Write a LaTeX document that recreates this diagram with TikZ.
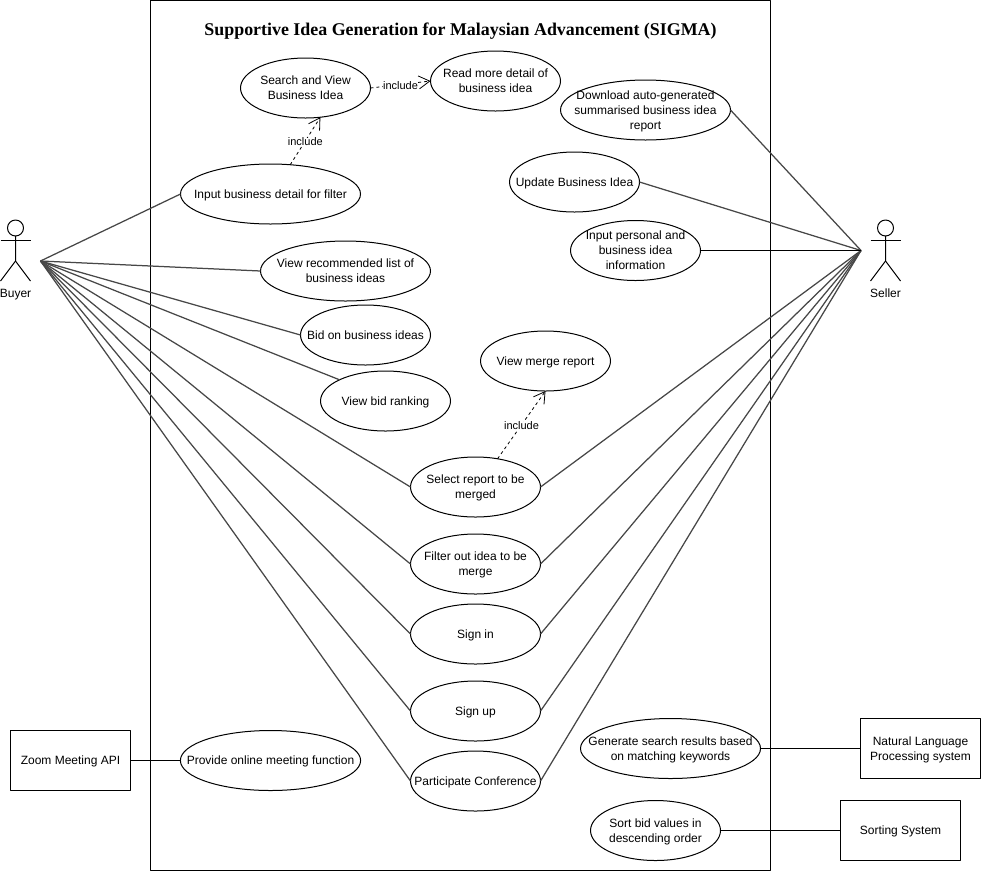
\documentclass[tikz,border=0pt]{standalone}
\usepackage{fontspec}
\setmainfont{Liberation Sans}
\newfontfamily\titlefont{Liberation Serif}
\usetikzlibrary{arrows.meta,shapes.geometric}

\begin{document}
\begin{tikzpicture}[
  x=1pt,
  y=-1pt,
  line join=round,
  font=\fontsize{12}{15}\selectfont,
  usecase/.style={draw=black,line width=1pt,ellipse,fill=white,align=center,inner sep=-20pt,outer sep=0pt,text depth=0pt,minimum width=130pt,minimum height=60pt},
  widecase/.style={usecase,minimum width=170pt},
  widercase/.style={usecase,minimum width=180pt},
  system/.style={draw=black,line width=1pt,align=center,inner sep=0pt,outer sep=0pt,text depth=0pt,minimum width=120pt,minimum height=60pt},
  assoc/.style={draw=black!72,line width=1.25pt},
  flat/.style={draw=black,line width=1pt},
  incl/.style={draw=black,line width=0.8pt,dash pattern=on 3pt off 3pt,-{Straight Barb[length=11pt,width=13pt,line width=0.8pt]}},
  incllabel/.style={fill=white,font=\fontsize{11}{13}\selectfont,inner sep=0pt,yshift=-1pt},
  actorline/.style={draw=black,line width=1pt},
  actorname/.style={inner sep=0pt,text depth=0pt}
]
  \useasboundingbox (0,0) rectangle (981,871);

  % System boundary and its title.
  \node[draw=black,line width=1pt,inner sep=0pt,outer sep=0pt,minimum width=620pt,minimum height=870pt] (frame) at (460.5,435.5) {};
  \node[font=\titlefont\bfseries\fontsize{17.9}{22}\selectfont,inner sep=0pt,text depth=0pt] (title) at (460.5,29.5) {Supportive Idea Generation for Malaysian Advancement (SIGMA)};

  % Actors, with the point where their connectors meet.
  \foreach \a/\x/\t in {buyer/15.5/Buyer,seller/885.5/Seller} {
    \node[draw=black,line width=1pt,circle,inner sep=0pt,outer sep=0pt,minimum size=16pt] (\a) at (\x,228) {};
    \draw[actorline] (\a.south) -- (\x,261) -- (\x-15,281);
    \draw[actorline] (\x,261) -- (\x+15,281);
    \draw[actorline] (\x-15,240.5) -- (\x+15,240.5);
    \node[actorname] (\a name) at (\x,293.5) {\t};
  }
  \coordinate (buyerport) at (40.5,261);
  \coordinate (sellerport) at (861,250.5);

  % Use cases.
  \node[usecase] (search) at (305.5,88) {Search and View\\Business Idea};
  \node[usecase] (readmore) at (495.5,81) {Read more detail of\\business idea};
  \node[widecase] (download) at (645.5,110) {Download auto-generated\\summarised business idea\\report};
  \node[widercase] (filterinput) at (270.5,194) {Input business detail for filter};
  \node[usecase] (update) at (574.5,182) {Update Business Idea};
  \node[usecase] (personal) at (635.5,250.5) {Input personal and\\business idea\\information};
  \node[widecase] (recommend) at (345.5,271) {View recommended list of\\business ideas};
  \node[usecase] (bid) at (365.5,335) {Bid on business ideas};
  \node[usecase] (ranking) at (385.5,401) {View bid ranking};
  \node[usecase] (viewmerge) at (545.5,361) {View merge report};
  \node[usecase] (select) at (475.5,487) {Select report to be\\merged};
  \node[usecase] (filterout) at (475.5,564) {Filter out idea to be\\merge};
  \node[usecase] (signin) at (475.5,634) {Sign in};
  \node[usecase] (signup) at (475.5,711) {Sign up};
  \node[usecase] (conference) at (475.5,781) {Participate Conference};
  \node[widercase] (meeting) at (270.5,760.5) {Provide online meeting function};
  \node[widercase] (keywords) at (670.5,748.5) {Generate search results based\\on matching keywords};
  \node[usecase] (sortbid) at (655.5,830.5) {Sort bid values in\\descending order};

  % External systems.
  \node[system] (zoom) at (70.5,760.5) {Zoom Meeting API};
  \node[system] (nlp) at (920.5,748.5) {Natural Language\\Processing system};
  \node[system] (sorting) at (900.5,830.5) {Sorting System};

  % Associations.
  \foreach \p in {filterinput,recommend,bid,select,filterout,signin,signup,conference} {
    \draw[assoc] (buyerport) -- (\p.west);
  }
  \draw[assoc] (buyerport) -- (ranking.north west);
  \foreach \p in {download,update,select,filterout,signin,signup,conference} {
    \draw[assoc] (sellerport) -- (\p.east);
  }
  \draw[flat] (sellerport) -- (personal.east);
  \draw[flat] (zoom) -- (meeting);
  \draw[flat] (keywords) -- (nlp);
  \draw[flat] (sortbid) -- (sorting);

  % Include relations.
  \draw[incl] (search.east) -- node[incllabel] (inclread) {include} (readmore.west);
  \draw[incl] (filterinput.56) -- node[incllabel] (inclsearch) {include} (search.-63);
  \draw[incl] (select.52) -- node[incllabel] (inclmerge) {include} (viewmerge.south);
\end{tikzpicture}
\end{document}
